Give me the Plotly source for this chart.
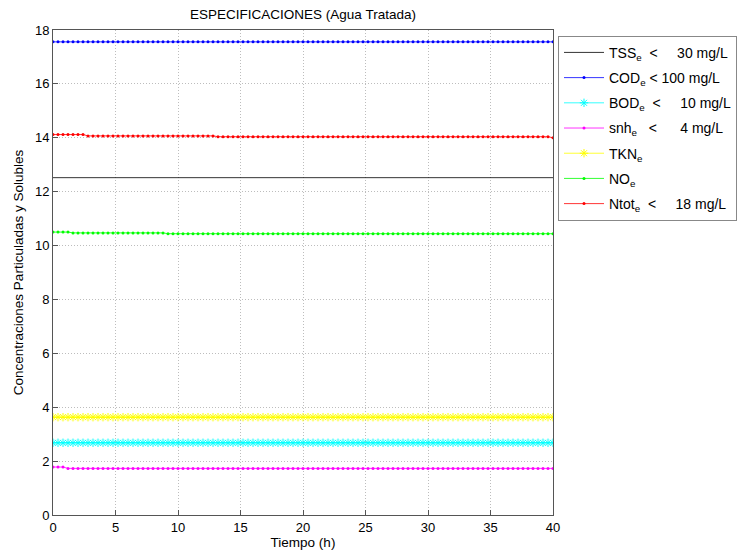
import plotly.graph_objects as go

# time samples (h)
tiempo = [round(0.4 * i, 1) for i in range(101)]

# readings per series (constant segments)
tss = [12.52] * 101
cod = [17.56] * 101
bod = [2.68] * 101
snh = [1.78] * 3 + [1.73] * 98
tkn = [3.63] * 101
no_e = [10.50] * 4 + [10.47] * 19 + [10.44] * 78
ntot = [14.12] * 7 + [14.07] * 26 + [14.04] * 67 + [14.00] * 1

NB = "&nbsp;"
names = [
    "TSS<sub>e</sub>" + NB * 2 + "&lt;" + NB * 5 + "30 mg/L",
    "COD<sub>e</sub>" + NB + "&lt; 100 mg/L",
    "BOD<sub>e</sub>" + NB * 2 + "&lt;" + NB * 5 + "10 mg/L",
    "snh<sub>e</sub>" + NB * 3 + "&lt;" + NB * 6 + "4 mg/L",
    "TKN<sub>e</sub>",
    "NO<sub>e</sub>",
    "Ntot<sub>e</sub>" + NB * 2 + "&lt;" + NB * 5 + "18 mg/L",
]

series = [tss, cod, bod, snh, tkn, no_e, ntot]
colors = ["#000000", "#0000ff", "#00ffff", "#ff00ff", "#ffff00", "#00ff00", "#ff0000"]
symbols = [None, "circle", "asterisk-open", "circle", "asterisk-open", "circle", "circle"]
msizes = [0, 3, 7, 3, 7, 3, 3]

fig = go.Figure()
for i, (name, ys, c, s, ms) in enumerate(zip(names, series, colors, symbols, msizes)):
    if s is None:
        fig.add_trace(go.Scatter(x=tiempo, y=ys, mode="lines", name=name,
                                 legendgroup=f"g{i}",
                                 line=dict(color=c, width=0.8)))
    else:
        fig.add_trace(go.Scatter(x=tiempo, y=ys, mode="lines+markers", name=name,
                                 legendgroup=f"g{i}",
                                 line=dict(color=c, width=0.8),
                                 marker=dict(symbol=s, size=ms, color=c,
                                             line=dict(color=c, width=1 if "asterisk" in s else 0))))

axis_common = dict(
    showline=True, linecolor="#555555", linewidth=1, mirror=True,
    ticks="inside", ticklen=5, tickcolor="#555555",
    showgrid=True, gridcolor="#bdbdbd", griddash="1px,2px", gridwidth=1,
    zeroline=False, tickfont=dict(size=13, color="#000000"),
)

fig.update_layout(
    width=738, height=555,
    margin=dict(l=53, r=185, t=30, b=40, autoexpand=False),
    paper_bgcolor="white", plot_bgcolor="white",
    font=dict(family="Liberation Sans, Arial, sans-serif", size=13, color="#000000"),
    title=dict(text="ESPECIFICACIONES (Agua Tratada)", x=0.5, xref="paper",
               xanchor="center", y=0.975, yanchor="middle", font=dict(size=13.5)),
    xaxis=dict(range=[0, 40], tickvals=[0, 5, 10, 15, 20, 25, 30, 35, 40],
               title=dict(text="Tiempo (h)", standoff=2, font=dict(size=13.5)),
               **axis_common),
    yaxis=dict(range=[0, 18], tickvals=[0, 2, 4, 6, 8, 10, 12, 14, 16, 18],
               title=dict(text="Concentraciones Particuladas y Solubles", standoff=8,
                          font=dict(size=13.5)),
               **axis_common),
    legend=dict(x=1.01, xanchor="left", y=0.988, yanchor="top",
                bgcolor="white", bordercolor="#888888", borderwidth=1,
                font=dict(size=14), tracegroupgap=4, itemwidth=40),
    showlegend=True,
)

fig.write_html("out.html")
